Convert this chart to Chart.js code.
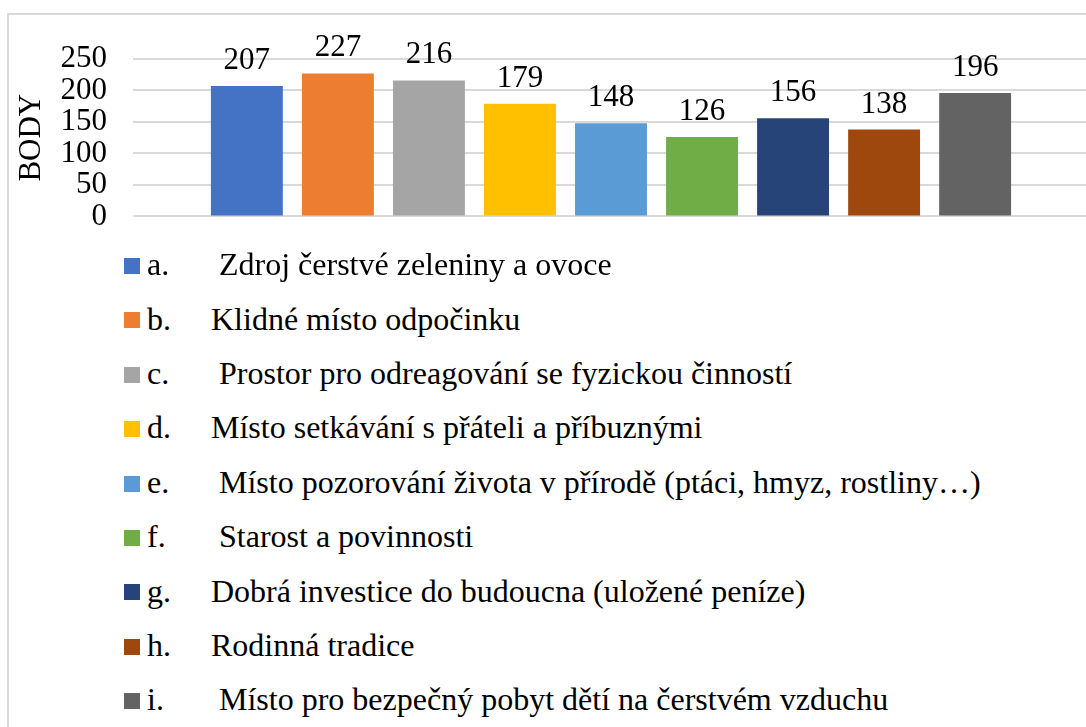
<!DOCTYPE html>
<html>
<head>
<meta charset="utf-8">
<script src="https://cdn.jsdelivr.net/npm/chart.js@4"></script>
<style>
  html, body { margin: 0; padding: 0; background: #fff; overflow: hidden; width: 1086px; height: 727px; }
  #frame { position: absolute; left: 7px; top: 13px; width: 1200px; height: 800px; border: 2px solid #d9d9d9; box-sizing: border-box; }
  #chart { position: absolute; left: 0; top: 0; }
  #legend { position: absolute; left: 0; top: 0; font-family: "Liberation Serif", "Times New Roman", serif; font-size: 32px; color: #000; }
  .row { position: absolute; left: 0; width: 1000px; height: 40px; }
  .box { position: absolute; left: 124px; width: 16px; height: 16px; }
  .txt { position: absolute; line-height: 32px; white-space: pre; }
</style>
</head>
<body>
<div id="frame"></div>
<canvas id="chart" width="1100" height="261"></canvas>
<div id="legend"></div>
<script>
// data
const letters = ["a.", "b.", "c.", "d.", "e.", "f.", "g.", "h.", "i."];
const categories = [
  " Zdroj čerstvé zeleniny a ovoce",
  "Klidné místo odpočinku",
  " Prostor pro odreagování se fyzickou činností",
  "Místo setkávání s přáteli a příbuznými",
  " Místo pozorování života v přírodě (ptáci, hmyz, rostliny…)",
  " Starost a povinnosti",
  "Dobrá investice do budoucna (uložené peníze)",
  "Rodinná tradice",
  " Místo pro bezpečný pobyt dětí na čerstvém vzduchu"
];
const values = [207, 227, 216, 179, 148, 126, 156, 138, 196];
const colors = ["#4472C4", "#ED7D31", "#A5A5A5", "#FFC000", "#5B9BD5", "#70AD47", "#264478", "#9E480E", "#636363"];
const yTicks = [0, 50, 100, 150, 200, 250];
const yTitle = "BODY";

const serif = "'Liberation Serif', 'Times New Roman', serif";

// value labels above each bar
const barLabels = {
  id: "barLabels",
  afterDatasetsDraw(chart) {
    const ctx = chart.ctx;
    ctx.save();
    ctx.font = "31px " + serif;
    ctx.fillStyle = "#000";
    ctx.textAlign = "center";
    ctx.textBaseline = "alphabetic";
    chart.data.datasets.forEach((ds, i) => {
      const meta = chart.getDatasetMeta(i);
      meta.data.forEach((bar, j) => {
        ctx.fillText(String(ds.data[j]), bar.x, bar.y - 17);
      });
    });
    ctx.restore();
  }
};

const chart = new Chart(document.getElementById("chart"), {
  type: "bar",
  data: {
    labels: [""],
    datasets: categories.map((c, i) => ({
      label: letters[i] + " " + c,
      data: [values[i]],
      backgroundColor: colors[i],
      borderWidth: 0,
      categoryPercentage: 0.857,
      barPercentage: 0.79
    }))
  },
  options: {
    responsive: false,
    animation: false,
    layout: { padding: { top: 59, bottom: 2, right: 11, left: 0 } },
    plugins: { legend: { display: false }, tooltip: { enabled: false } },
    scales: {
      x: { display: false, offset: true },
      y: {
        min: 0,
        max: 250,
        afterBuildTicks: (axis) => { axis.ticks = yTicks.map((v) => ({ value: v })); },
        afterFit: (axis) => { axis.width = 133; },
        border: { display: false },
        grid: { color: "#d9d9d9", lineWidth: 2, drawTicks: false },
        ticks: { color: "#000", padding: 26, autoSkip: false, font: { family: serif, size: 31 } },
        title: {
          display: true,
          text: yTitle,
          color: "#000",
          font: { family: serif, size: 31 },
          padding: { top: 13, bottom: 0 }
        }
      }
    }
  },
  plugins: [barLabels]
});

// legend below the chart, one row per dataset
const legend = document.getElementById("legend");
chart.data.datasets.forEach((ds, i) => {
  const cy = 266 + i * 54.4;
  const row = document.createElement("div");
  row.className = "row";
  row.style.top = (cy - 20) + "px";
  const box = document.createElement("div");
  box.className = "box";
  box.style.top = "12px";
  box.style.background = ds.backgroundColor;
  const letter = document.createElement("div");
  letter.className = "txt";
  letter.style.left = "147px";
  letter.style.top = (20 + 9 - 26.8) + "px";
  letter.textContent = letters[i];
  const label = document.createElement("div");
  label.className = "txt";
  label.style.left = "211px";
  label.style.top = (20 + 9 - 26.8) + "px";
  label.textContent = categories[i];
  row.appendChild(box);
  row.appendChild(letter);
  row.appendChild(label);
  legend.appendChild(row);
});
</script>
</body>
</html>
